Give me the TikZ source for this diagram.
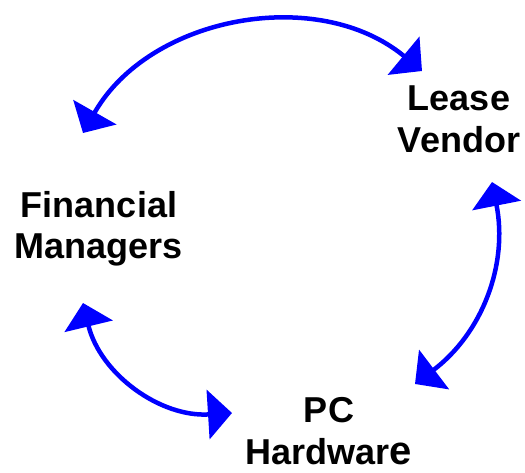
\documentclass[tikz,border=0pt]{standalone}
\usepackage{fontspec}
\setmainfont{Liberation Sans}
\usetikzlibrary{arrows.meta}
\tikzset{party/.style={font=\bfseries\fontsize{36}{42}\selectfont,align=center,inner sep=0pt,anchor=base},
  link/.style={draw=blue,line width=4.5pt,>={Triangle[length=24pt,width=49pt]},<->}}

\begin{document}
\begin{tikzpicture}[x=1pt,y=1pt]
 \useasboundingbox (0,0) rectangle (525,472);
 \node[party] (fin) at (99,213) {Financial\\Managers};
 \node[party] (lease) at (459,319) {Lease\\Vendor};
 \node[party] (pc) at (329,8) {PC\\Hardwar{\fontsize{40}{42}\selectfont e}};
 \coordinate (fl) at (83,339);
 \coordinate (lf) at (422,401);
 \coordinate (lp) at (492,290);
 \coordinate (pl) at (415,88);
 \coordinate (fp) at (83,169);
 \coordinate (pf) at (232,59);
 \draw[link] (fl) to[bend left=50] (lf);
 \draw[link] (lp) to[bend left=32] (pl);
 \draw[link] (fp) to[bend right=40] (pf);
\end{tikzpicture}
\end{document}
